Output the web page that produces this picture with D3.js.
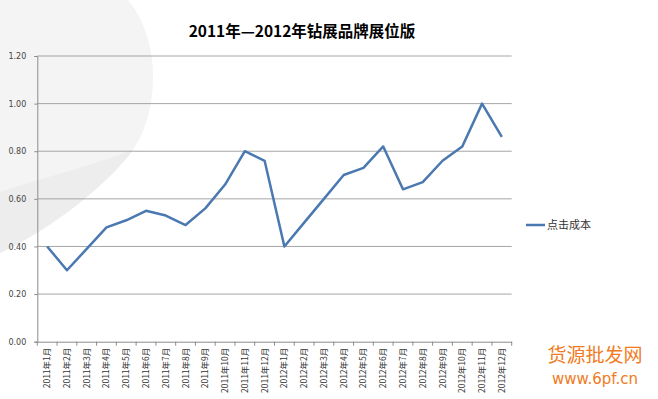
<!DOCTYPE html>
<html><head><meta charset="utf-8">
<script src="https://cdn.jsdelivr.net/npm/d3@7"></script>
<style>
html,body{margin:0;padding:0;background:#fff;}
svg{display:block;}
</style>
</head><body>
<svg id="chart" width="658" height="399"></svg>
<script>
const title = "2011年—2012年钻展品牌展位版";
const categories = ["2011年1月","2011年2月","2011年3月","2011年4月","2011年5月","2011年6月","2011年7月","2011年8月","2011年9月","2011年10月","2011年11月","2011年12月",
  "2012年1月","2012年2月","2012年3月","2012年4月","2012年5月","2012年6月","2012年7月","2012年8月","2012年9月","2012年10月","2012年11月","2012年12月"];
const seriesName = "点击成本";
const values = [0.40,0.30,0.39,0.48,0.51,0.55,0.53,0.49,0.56,0.66,0.80,0.76,
  0.40,0.50,0.60,0.70,0.73,0.82,0.64,0.67,0.76,0.82,1.00,0.86];
const yTicks = [0,0.2,0.4,0.6,0.8,1.0,1.2];

const svg = d3.select("#chart");
const W = 658, H = 399;
const m = {left:37.3, right:658-511.7, top:56, bottom:399-341.7};

// background swoosh
const outer = "M0,0 L128,0 C162,40 162,120 125,160 C95,195 45,232 0,253 Z";
svg.append("defs").append("clipPath").attr("id","sw").append("path").attr("d", outer);
svg.append("path").attr("d", outer).attr("fill","#f4f4f4");
svg.append("path")
  .attr("d","M0,192 C45,176 100,166 175,132 L175,300 L0,300 Z")
  .attr("fill","#ededed").attr("clip-path","url(#sw)");

const x = d3.scaleBand().domain(categories).range([m.left, W - m.right]).padding(0);
const y = d3.scaleLinear().domain([0,1.2]).range([H - m.bottom, m.top]);

// gridlines
svg.append("g").selectAll("line").data(yTicks.filter(d=>d>0)).join("line")
  .attr("x1", m.left).attr("x2", W - m.right)
  .attr("y1", d=>y(d)).attr("y2", d=>y(d))
  .attr("stroke","#a6a6a6").attr("stroke-width",1);

// y axis
const yAxis = svg.append("g").attr("transform",`translate(${m.left},0)`)
  .call(d3.axisLeft(y).tickValues(yTicks).tickFormat(d3.format(".2f")).tickSize(3).tickPadding(8));
yAxis.select(".domain").attr("stroke","#8c8c8c");
yAxis.selectAll(".tick line").attr("stroke","#8c8c8c");
yAxis.selectAll("text").attr("fill","#444").style("font-family","'DejaVu Sans',sans-serif").style("font-size","8px");

// x axis
const xAxis = svg.append("g").attr("transform",`translate(0,${H - m.bottom})`)
  .call(d3.axisBottom(x).tickSize(0).tickFormat(""));
xAxis.select(".domain").attr("stroke","#8c8c8c");
const bounds = categories.map(c => x(c)).concat([x(categories[categories.length-1]) + x.bandwidth()]);
xAxis.append("g").selectAll("line").data(bounds).join("line")
  .attr("x1",d=>d).attr("x2",d=>d).attr("y1",0).attr("y2",4)
  .attr("stroke","#8c8c8c");
xAxis.append("g").selectAll("text").data(categories).join("text")
  .attr("transform", d => `translate(${x(d) + x.bandwidth()/2},6) rotate(-90)`)
  .attr("text-anchor","end").attr("dy","0.35em")
  .attr("fill","#333")
  .style("font-family","'Noto Sans CJK SC',sans-serif").style("font-size","8.5px")
  .text(d=>d);

// line
const line = d3.line().x((d,i)=>x(categories[i]) + x.bandwidth()/2).y(d=>y(d));
svg.append("path").datum(values)
  .attr("d", line).attr("fill","none")
  .attr("stroke","#4a78b0").attr("stroke-width",2.5).attr("stroke-linejoin","round");

// title
svg.append("text").attr("x",302).attr("y",37).attr("text-anchor","middle")
  .style("font-family","'Noto Sans CJK SC',sans-serif").style("font-weight","bold").style("font-size","15.5px")
  .attr("fill","#000").text(title);

// legend
svg.append("line").attr("x1",526).attr("x2",545).attr("y1",225).attr("y2",225)
  .attr("stroke","#4a78b0").attr("stroke-width",2.5);
svg.append("text").attr("x",547).attr("y",225).attr("dy","0.35em")
  .style("font-family","'Noto Sans CJK SC',sans-serif").style("font-size","11px")
  .attr("fill","#333").text(seriesName);

// watermark
svg.append("text").attr("x",595).attr("y",362).attr("text-anchor","middle")
  .style("font-family","'Noto Sans CJK SC',sans-serif").style("font-size","19px")
  .attr("fill","#f07b22").text("货源批发网");
svg.append("text").attr("x",595).attr("y",384).attr("text-anchor","middle")
  .style("font-family","'DejaVu Sans',sans-serif").style("font-size","15px")
  .attr("fill","#f07b22").text("www.6pf.cn");
</script>
</body></html>
